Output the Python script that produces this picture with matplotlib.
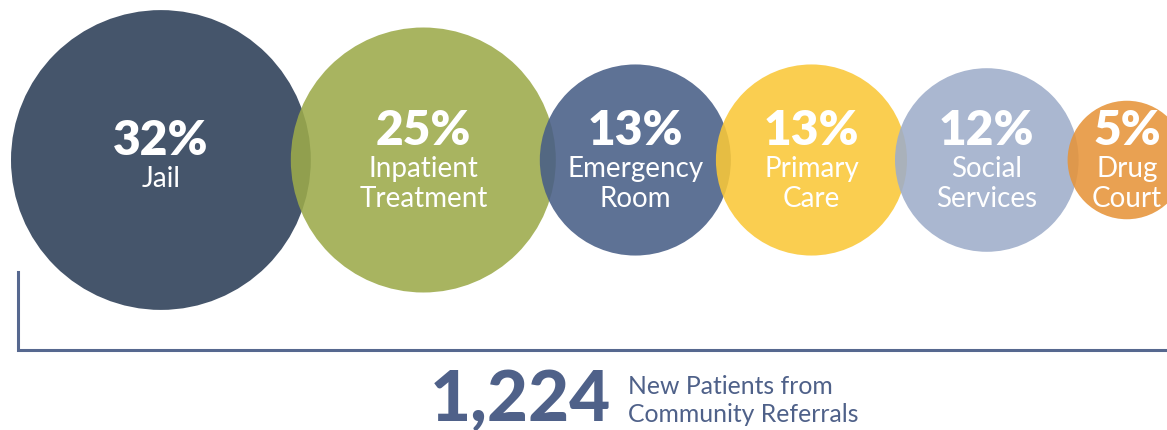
import numpy as np
import matplotlib
matplotlib.use("Agg")
import matplotlib.pyplot as plt
from matplotlib.patches import Circle

# ---- data ----
categories = ["Jail", "Inpatient\nTreatment", "Emergency\nRoom", "Primary\nCare",
              "Social\nServices", "Drug\nCourt"]
percentages = [32, 25, 13, 13, 12, 5]
total_patients = "1,224"
total_caption = "New Patients from\nCommunity Referrals"

# ---- style / layout ----
colors = ["#44546a", "#a8b460", "#5e7195", "#fbcf50", "#aab7d0", "#e9a152"]
alpha = 0.88
scale = 26.5          # px radius per sqrt(percent) -> area-proportional bubbles
overlaps = [20, 16, 15, 12, 11]
left_edge = 11
cy = 160
accent = "#4f6189"

W, H = 1167, 430
fig = plt.figure(figsize=(W / 100, H / 100), dpi=100)
ax = fig.add_axes([0, 0, 1, 1])
ax.set_xlim(0, W)
ax.set_ylim(H, 0)
ax.set_aspect("equal")
ax.axis("off")

radii = [scale * np.sqrt(p) for p in percentages]
centers = []
x = left_edge + radii[0]
centers.append(x)
for i in range(1, len(radii)):
    x = x + radii[i - 1] + radii[i] - overlaps[i - 1]
    centers.append(x)

def base_color(hexc, a):
    rgb = np.array(matplotlib.colors.to_rgb(hexc))
    return tuple(np.clip((rgb - (1 - a)) / a, 0, 1))

font = "Lato"
for i, (cat, pct, r, cx) in enumerate(zip(categories, percentages, radii, centers)):
    ax.add_patch(Circle((cx, cy), r, facecolor=base_color(colors[i], alpha),
                        alpha=alpha, edgecolor="none", zorder=2 + i))
    lines = cat.split("\n")
    n = len(lines)
    pct_base = cy - 5 - (n - 1) * 10
    ax.text(cx, pct_base, f"{pct}%", ha="center", va="baseline", color="white",
            fontsize=34.5, fontweight="heavy", family=font, zorder=20)
    for k, line in enumerate(lines):
        ax.text(cx, pct_base + 32 + 30 * k, line, ha="center", va="baseline",
                color="white", fontsize=20, family=font, zorder=20)

# bracket
ax.plot([18, 18, W + 5], [272, 350, 350], color="#56688f", lw=2.2,
        solid_joinstyle="miter", zorder=1, clip_on=False)

# total
ax.text(611, 421, total_patients, ha="right", va="baseline", color=accent,
        fontsize=51, fontweight="black", family=font)
cap = total_caption.split("\n")
ax.text(628, 394, cap[0], ha="left", va="baseline", color=accent,
        fontsize=17.8, family=font)
ax.text(628, 422, cap[1], ha="left", va="baseline", color=accent,
        fontsize=17.8, family=font)

fig.savefig("out.png", dpi=100, facecolor="white")
